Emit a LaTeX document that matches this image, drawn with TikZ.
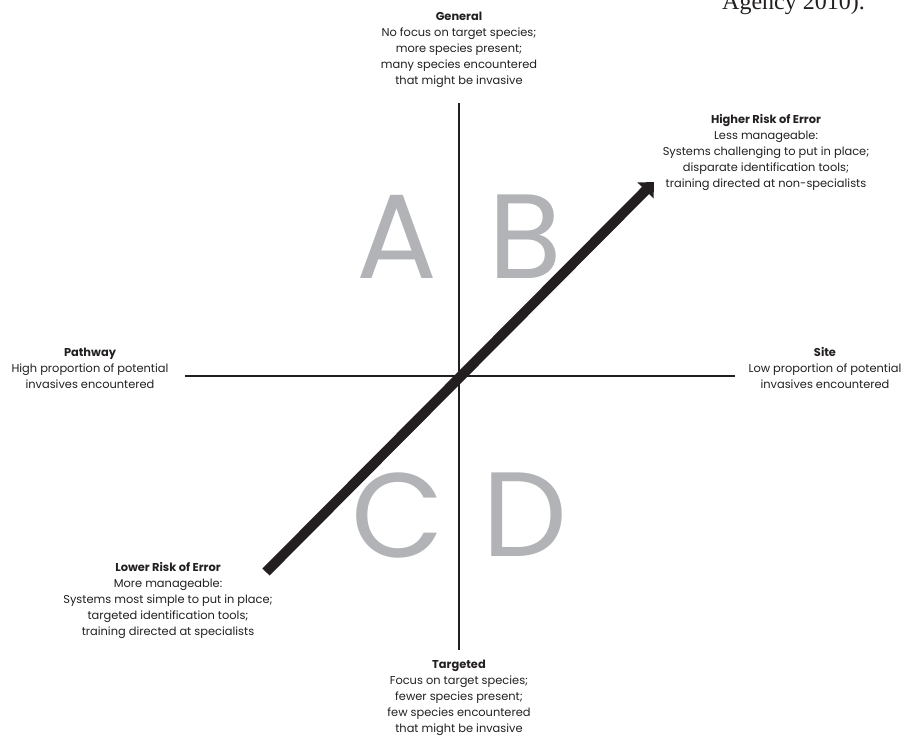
\documentclass[tikz,border=0pt]{standalone}
\usepackage{fontspec}
\setmainfont{Poppins}
\newfontfamily\pageserif{Liberation Serif}
\usetikzlibrary{arrows.meta}
\definecolor{inkblack}{HTML}{231F20}
\definecolor{quadgray}{HTML}{B1B3B6}

\begin{document}
\begin{tikzpicture}[x=1pt,y=1pt]
\tikzstyle{every node}+=[inner sep=0pt]
\tikzset{
  axislabel/.style={align=center, text=inkblack, font=\fontsize{11.4}{16}\selectfont},
  quadrant/.style={text=quadgray, font=\fontsize{120}{120}\selectfont},
  axis/.style={inkblack, line width=2.4pt},
}
\useasboundingbox (0,0) rectangle (903,-742);
% axis ends
\coordinate (north) at (459,-103);
\coordinate (south) at (459,-650);
\coordinate (west) at (185,-376);
\coordinate (east) at (735,-376);
\coordinate (lowrisk) at (266,-572);
\coordinate (highrisk) at (654,-182);
\draw [axis] (north) -- (south);
\draw [axis] (west) -- (east);
% quadrant letters
\node (qa) [quadrant] at (397,-237) {A};
\node (qb) [quadrant] at (525,-237) {B};
\node (qc) [quadrant] at (398,-515) {C};
\node (qd) [quadrant] at (525,-515) {D};
% risk arrow
\draw [inkblack, line width=10pt, -{Triangle[length=12pt,width=22pt]}] (lowrisk) -- (highrisk);
% labels
\node (general) [axislabel, anchor=north] at (459,-11.5) {\textbf{General}\\No focus on target species;\\more species present;\\many species encountered\\that might be invasive};
\node (targeted) [axislabel, anchor=north] at (459,-660) {\textbf{Targeted}\\Focus on target species;\\fewer species present;\\few species encountered\\that might be invasive};
\node (pathway) [axislabel, anchor=north] at (90,-347.5) {\textbf{Pathway}\\High proportion of potential\\invasives encountered};
\node (site) [axislabel, anchor=north] at (825,-347.5) {\textbf{Site}\\Low proportion of potential\\invasives encountered};
\node (higher) [axislabel, anchor=north] at (766,-114) {\textbf{Higher Risk of Error}\\Less manageable:\\Systems challenging to put in place;\\disparate identification tools;\\training directed at non-specialists};
\node (lower) [axislabel, anchor=north] at (168,-562) {\textbf{Lower Risk of Error}\\More manageable:\\Systems most simple to put in place;\\targeted identification tools;\\training directed at specialists};
% cut-off text of the page above
\node (pagetext) [anchor=base east, text=inkblack, font=\pageserif\fontsize{24}{24}\selectfont] at (865,-9) {Agency 2010).};
\end{tikzpicture}
\end{document}
